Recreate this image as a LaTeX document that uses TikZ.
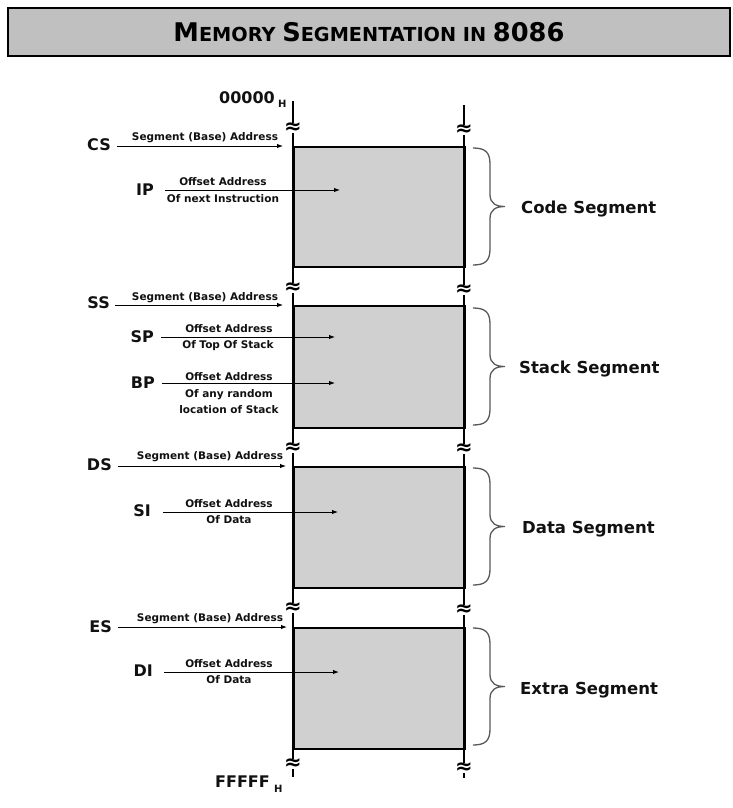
\documentclass[tikz,border=0pt]{standalone}
\usepackage{fontspec}
\usepackage{graphicx}
\setmainfont{DejaVu Sans}
\usetikzlibrary{arrows.meta}
\definecolor{titlegray}{HTML}{C0C0C0}
\definecolor{seggray}{HTML}{D0D0D0}
\definecolor{bracec}{HTML}{595959}
\definecolor{txt}{HTML}{111111}
\newcommand\membrace[2]{%
  \draw[brc] (473,#1) .. controls (485,#1) and (490,#1+4) .. (490,#1+16)
    -- (490,{(#1+#2)/2-12}) .. controls (490,{(#1+#2)/2-3}) and (496,{(#1+#2)/2}) .. (505,{(#1+#2)/2})
    .. controls (496,{(#1+#2)/2}) and (490,{(#1+#2)/2+3}) .. (490,{(#1+#2)/2+12})
    -- (490,#2-16) .. controls (490,#2-4) and (485,#2) .. (473,#2);}
\begin{document}
\begin{tikzpicture}[x=1pt,y=-1pt,
  reg/.style={font=\fontsize{16}{16}\selectfont\bfseries, inner sep=0pt, anchor=base east, text=txt},
  small/.style={font=\fontsize{10.5}{12}\selectfont\bfseries, text=txt, inner sep=0pt, anchor=base},
  seg/.style={draw, line width=2pt, fill=seggray, anchor=north west, inner sep=0pt, minimum width=171pt},
  mem/.style={line width=2.5pt},
  arr/.style={line width=1pt, -{Latex[length=6pt,width=4.5pt]}},
  brk/.style={font=\fontsize{21}{21}\selectfont\bfseries, fill=white, inner sep=0pt},
  brc/.style={draw=bracec, line width=1.3pt},
  segname/.style={font=\fontsize{16.5}{16.5}\selectfont\bfseries, anchor=base west, inner sep=0pt, text=txt},
  addr/.style={font=\fontsize{16}{16}\selectfont\bfseries, inner sep=0pt, anchor=base east, text=txt},
  hsub/.style={font=\fontsize{10}{10}\selectfont\bfseries, inner sep=0pt, anchor=base west, text=txt}]
\useasboundingbox (0,0) rectangle (733,808);

% title
\node[draw, line width=1.5pt, fill=titlegray, minimum width=722pt, minimum height=48pt, inner sep=0pt] (title) at (369,32)
  {\resizebox{391pt}{!}{\bfseries\fontsize{20}{20}\selectfont M\fontsize{15}{15}\selectfont EMORY \fontsize{20}{20}\selectfont S\fontsize{15}{15}\selectfont EGMENTATION IN \fontsize{20}{20}\selectfont 8086}};

% segments
\node[seg, minimum height=120pt] (code) at (293,146) {};
\node[seg, minimum height=122pt] (stack) at (293,305) {};
\node[seg, minimum height=121pt] (data) at (293,466) {};
\node[seg, minimum height=121pt] (extra) at (293,627) {};

% memory lines
\coordinate (ltop) at (293,101);
\coordinate (lbot) at (293,777);
\coordinate (rtop) at (464,105);
\coordinate (rbot) at (464,778);
\draw[mem] (ltop) -- (lbot);
\draw[mem] (rtop) -- (rbot);

% breaks
\node[brk] (bl1) at (293,128) {≈};
\node[brk] (br1) at (464,130) {≈};
\node[brk] (bl2) at (293,288) {≈};
\node[brk] (br2) at (464,290) {≈};
\node[brk] (bl3) at (293,448) {≈};
\node[brk] (br3) at (464,449) {≈};
\node[brk] (bl4) at (293,608) {≈};
\node[brk] (br4) at (464,610) {≈};
\node[brk] (bl5) at (293,764) {≈};
\node[brk] (br5) at (464,768) {≈};

% addresses
\node[addr] (start) at (275,103) {00000};
\node[hsub] (starth) at (278,107) {H};
\node[addr] (end) at (270,787) {FFFFF};
\node[hsub] (endh) at (274,792) {H};

% code segment
\node[reg] (CS) at (111,150) {CS};
\coordinate (csT) at (283,146);
\draw[arr, shorten <=6pt] (CS.east |- csT) -- (csT);
\node[small] (csL) at (205,140) {Segment (Base) Address};
\node[reg] (IP) at (154,195) {IP};
\coordinate (ipT) at (340,190);
\draw[arr, shorten <=11pt] (IP.east |- ipT) -- (ipT);
\node[small] (ipL1) at (223,185) {Offset Address};
\node[small] (ipL2) at (223,202) {Of next Instruction};

% stack segment
\node[reg] (SS) at (110,308) {SS};
\coordinate (ssT) at (283,305);
\draw[arr, shorten <=5pt] (SS.east |- ssT) -- (ssT);
\node[small] (ssL) at (205,300) {Segment (Base) Address};
\node[reg] (SP) at (154,342) {SP};
\coordinate (spT) at (335,337);
\draw[arr, shorten <=7pt] (SP.east |- spT) -- (spT);
\node[small] (spL1) at (229,332) {Offset Address};
\node[small] (spL2) at (228,348) {Of Top Of Stack};
\node[reg] (BP) at (155,388) {BP};
\coordinate (bpT) at (335,383);
\draw[arr, shorten <=7pt] (BP.east |- bpT) -- (bpT);
\node[small] (bpL1) at (229,380) {Offset Address};
\node[small] (bpL2) at (229,397) {Of any random};
\node[small] (bpL3) at (229,413) {location of Stack};

% data segment
\node[reg] (DS) at (112,470) {DS};
\coordinate (dsT) at (286,466);
\draw[arr, shorten <=6pt] (DS.east |- dsT) -- (dsT);
\node[small] (dsL) at (210,459) {Segment (Base) Address};
\node[reg] (SI) at (151,516) {SI};
\coordinate (siT) at (338,512);
\draw[arr, shorten <=12pt] (SI.east |- siT) -- (siT);
\node[small] (siL1) at (229,507) {Offset Address};
\node[small] (siL2) at (229,523) {Of Data};

% extra segment
\node[reg] (ES) at (112,632) {ES};
\coordinate (esT) at (287,627);
\draw[arr, shorten <=6pt] (ES.east |- esT) -- (esT);
\node[small] (esL) at (210,621) {Segment (Base) Address};
\node[reg] (DI) at (153,676) {DI};
\coordinate (diT) at (339,672);
\draw[arr, shorten <=11pt] (DI.east |- diT) -- (diT);
\node[small] (diL1) at (229,667) {Offset Address};
\node[small] (diL2) at (229,683) {Of Data};

% braces and names
\membrace{148}{265}
\membrace{308}{425}
\membrace{468}{585}
\membrace{628}{745}
\node[segname] (codeN) at (521,213) {Code Segment};
\node[segname] (stackN) at (519,373) {Stack Segment};
\node[segname] (dataN) at (522,533) {Data Segment};
\node[segname] (extraN) at (520,694) {Extra Segment};
\end{tikzpicture}
\end{document}
